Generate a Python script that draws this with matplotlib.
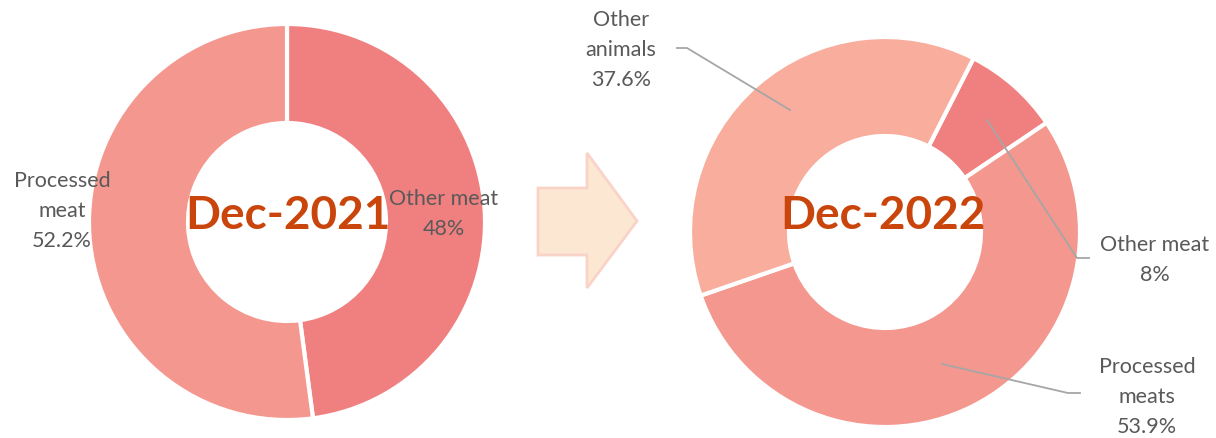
import matplotlib
matplotlib.use("Agg")
import matplotlib.pyplot as plt
from matplotlib.patches import Polygon

# shares of meat categories, Dec-2021 vs Dec-2022
labels_2021 = ["Other meat", "Processed\nmeat"]
values_2021 = [48.0, 52.2]
pct_2021 = ["48%", "52.2%"]

labels_2022 = ["Other meat", "Processed\nmeats", "Other\nanimals"]
values_2022 = [8.0, 53.9, 37.6]
pct_2022 = ["8%", "53.9%", "37.6%"]

colors_2021 = ["#F08080", "#F4978E"]
colors_2022 = ["#F08080", "#F4978E", "#F8AD9D"]

W, H = 1216, 438
fig = plt.figure(figsize=(W / 100, H / 100), dpi=100)
ax = fig.add_axes([0, 0, 1, 1])

wp = dict(width=99, edgecolor="white", linewidth=3)

# left donut, starts at 12 o'clock and runs clockwise
ax.pie(values_2021, colors=colors_2021, radius=198, center=(287, 216),
       startangle=90, counterclock=False, wedgeprops=wp)
# right donut
ax.pie(values_2022, colors=colors_2022, radius=195, center=(885, 206),
       startangle=63, counterclock=False, wedgeprops=wp)

ax.set_xlim(0, W)
ax.set_ylim(0, H)
ax.set_aspect("equal")
ax.axis("off")

lab_kw = dict(fontsize=15.5, color="#595959", ha="center", va="center",
              family="Lato", linespacing=1.6)
title_kw = dict(fontsize=33, color="#C9450C", ha="center", va="center",
                family="Lato", fontweight="bold")

ax.text(288, 222, "Dec-2021", **title_kw)
ax.text(883, 222, "Dec-2022", **title_kw)

ax.text(62, 227, labels_2021[1] + "\n" + pct_2021[1], **lab_kw)
ax.text(444, 224, labels_2021[0] + "\n" + pct_2021[0], **lab_kw)

ax.text(621, 388, labels_2022[2] + "\n" + pct_2022[2], **lab_kw)
ax.text(1155, 178, labels_2022[0] + "\n" + pct_2022[0], **lab_kw)
ax.text(1147, 41, labels_2022[1] + "\n" + pct_2022[1], **lab_kw)

# leader lines
lc = dict(color="#A6A6A6", lw=1.3)
ax.plot([677, 687, 790], [H - 48, H - 48, H - 110], **lc)
ax.plot([987, 1077, 1089], [H - 120, H - 258, H - 258], **lc)
ax.plot([942, 1068, 1080], [H - 364, H - 393, H - 393], **lc)

# arrow between the two donuts
arrow = [(538, 188), (587, 188), (587, 153), (637, 221),
         (587, 288), (587, 255), (538, 255)]
ax.add_patch(Polygon([(x, H - y) for x, y in arrow], closed=True,
                     facecolor="#FCE8D2", edgecolor="#FAD3C8", lw=2))

fig.savefig("out.png", dpi=100)
